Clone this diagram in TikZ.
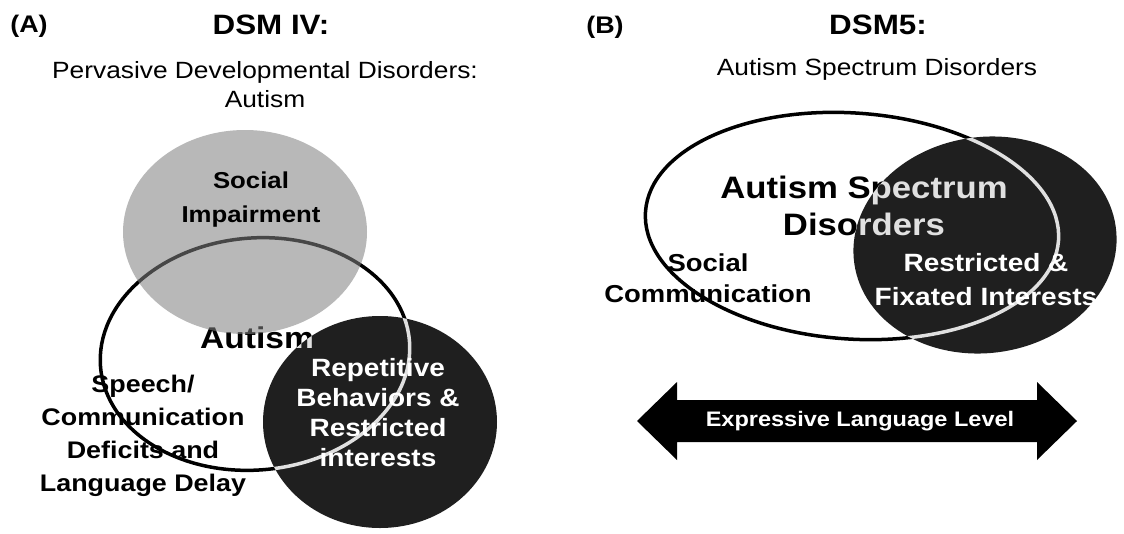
\documentclass[tikz,border=0pt]{standalone}
\usepackage{fontspec}
\setmainfont[FakeStretch=1.12]{Liberation Sans}
\usetikzlibrary{shapes.geometric}

\tikzset{
  venn/.style={ellipse, inner sep=0pt, outer sep=0pt},
  rim/.style={ellipse, draw=white, line width=3.5pt, inner sep=0pt},
  paneltag/.style={font=\bfseries\fontsize{24}{28}\selectfont},
  heading/.style={font=\bfseries\fontsize{28}{34}\selectfont},
  subhead/.style={font=\fontsize{23.5}{29}\selectfont, align=center},
  lbl/.style={font=\bfseries\fontsize{24}{33}\selectfont, align=center},
  biglbl/.style={font=\bfseries\fontsize{31}{37}\selectfont, align=center},
}

\begin{document}
\begin{tikzpicture}[x=1pt, y=-1pt]
  \fill[white] (0,0) rectangle (1124,533);
  \useasboundingbox (0,0) rectangle (1124,533);

  % 1. Headings of both panels
  \node[paneltag] (tagA) at (29,26) {(A)};
  \node[heading] (dsmiv) at (271,25) {DSM IV:};
  \node[subhead] (pdd) at (265,85) {Pervasive Developmental Disorders:\\Autism};
  \node[paneltag] (tagB) at (605,27) {(B)};
  \node[heading] (dsmv) at (878,25) {DSM5:};
  \node[subhead] (asd) at (877,69) {Autism Spectrum Disorders};

  % 2. Filled circles (left: social impairment, repetitive behaviours)
  \node[venn, fill=black!28, minimum width=244pt, minimum height=204pt] (social) at (245,232) {};
  \node[venn, fill=black!88, minimum width=234pt, minimum height=212pt] (repet) at (380,422) {};
  % right: restricted interests
  \node[venn, fill=black!88, minimum width=264pt, minimum height=216pt, rotate=8] (fixed) at (985,245) {};

  % 3. Open outlines, drawn so they show light on the dark fills
  \begin{scope}[blend mode=difference]
    \node[rim, minimum width=310pt, minimum height=232pt, rotate=5] (autism) at (255,354) {};
    \node[rim, minimum width=414pt, minimum height=226pt, rotate=-4] (spectrum) at (852,226) {};
    \node[biglbl, text=white, font=\bfseries\fontsize{30}{36}\selectfont] (autismlbl) at (257,338) {Autism};
    \node[biglbl, text=white] (spectrumlbl) at (864,206) {Autism Spectrum\\Disorders};
  \end{scope}

  % 4. Labels of the left diagram
  \node[lbl, font=\bfseries\fontsize{23}{34}\selectfont] (sociallbl) at (251,200) {Social\\Impairment};
  \node[lbl] (speechlbl) at (143,436) {Speech/\\Communication\\Deficits and\\Language Delay};
  \node[lbl, text=white, font=\bfseries\fontsize{25}{30}\selectfont] (repetlbl) at (378,413) {Repetitive\\Behaviors \&\\Restricted\\interests};

  % 5. Labels of the right diagram
  \node[lbl, font=\bfseries\fontsize{24.5}{31}\selectfont] (commlbl) at (708,278) {Social\\Communication};
  \node[lbl, text=white, font=\bfseries\fontsize{25}{34}\selectfont] (fixedlbl) at (986,280) {Restricted \&\\Fixated Interests};

  % 6. Double arrow for the language level
  \fill (637,421) -- (677,382) -- (677,400) -- (1037,400) -- (1037,382) -- (1077,421)
    -- (1037,460) -- (1037,442) -- (677,442) -- (677,460) -- cycle;
  \node[text=white, font=\bfseries\fontsize{21}{25}\selectfont] (level) at (860,421) {Expressive Language Level};
\end{tikzpicture}
\end{document}
